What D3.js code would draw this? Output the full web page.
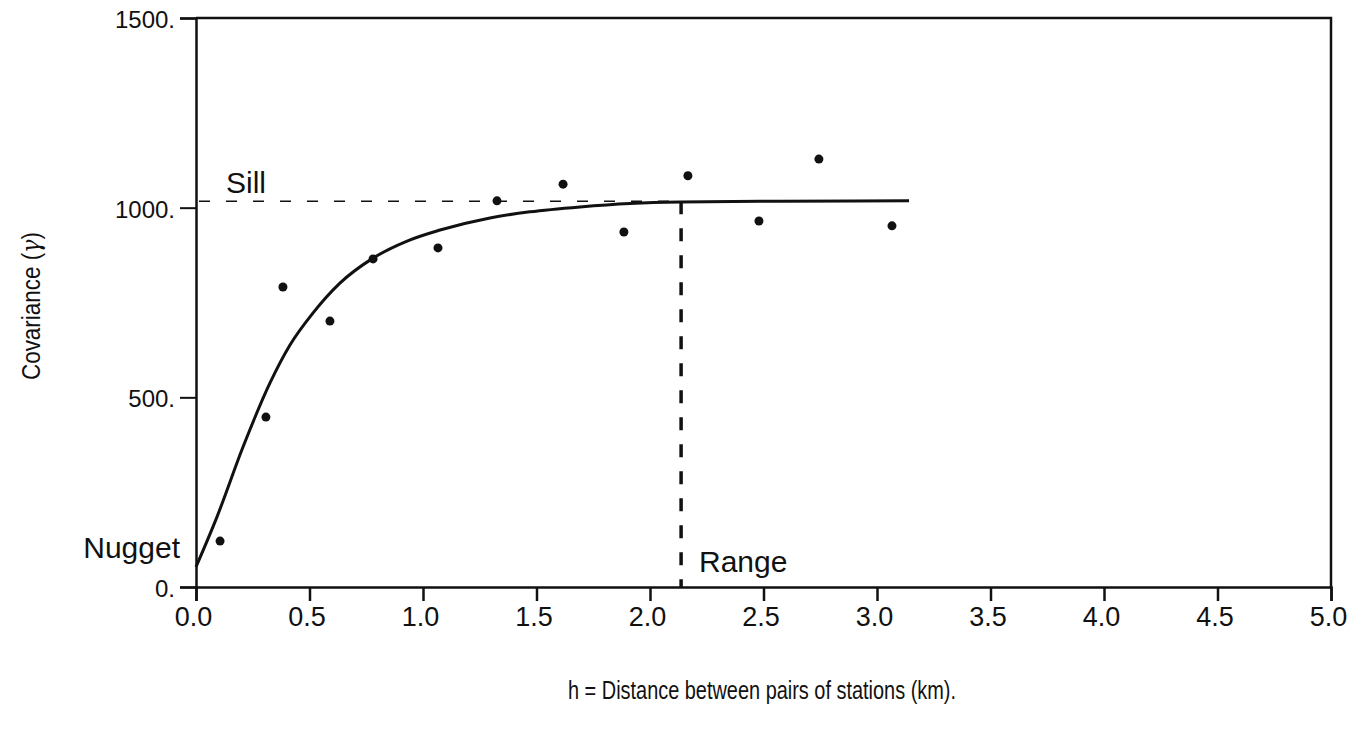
<!DOCTYPE html>
<html>
<head>
<meta charset="utf-8">
<script src="https://cdn.jsdelivr.net/npm/d3@7"></script>
<style>
  body { margin: 0; background: #fff; }
  svg text { font-family: "Liberation Sans", Arial, Helvetica, sans-serif; fill: #111; }
</style>
</head>
<body>
<div id="chart"></div>
<script>
// observed covariance points (h in km, covariance)
var pointH   = [0.106, 0.308, 0.383, 0.590, 0.780, 1.066, 1.326, 1.617, 1.885, 2.167, 2.480, 2.744, 3.066];
var pointCov = [121,   448,   791,   701,   865,   894,   1018,  1062,  936,   1084,  965,   1128,  952];

// fitted model curve
var curveH   = [0, 0.0925, 0.207, 0.326, 0.414, 0.515, 0.634, 0.780, 0.930, 1.075, 1.295, 1.471, 1.692, 1.912, 2.132, 2.573, 3.141];
var curveCov = [53, 185,   369,   538,   638,   722,   801,   867,   912,   941,   973,   989,   1002,  1011,  1015,  1017,  1018];

var sill = 1017;
var rangeH = 2.137;

var xTicks = [0, 0.5, 1, 1.5, 2, 2.5, 3, 3.5, 4, 4.5, 5];
var xMinor = [0.25, 0.75, 1.25, 1.75, 2.25, 2.75, 3.25, 3.75, 4.25, 4.75];
var yTicks = [0, 500, 1000, 1500];
var yMinor = d3.range(0, 1501, 50);

var width = 1366, height = 734;
var margin = {top: 18, right: 35, bottom: 147, left: 196};

var svg = d3.select("#chart")
  .append("svg")
    .attr("width", width)
    .attr("height", height);

var x = d3.scaleLinear()
    .domain([0, 5])
    .range([margin.left, width - margin.right]);

var y = d3.scaleLinear()
    .domain([0, 1500])
    .range([height - margin.bottom, margin.top]);

// frame: top and right border
svg.append("path")
    .attr("d", "M" + x(0) + "," + y(1500) + "H" + x(5) + "V" + y(0))
    .attr("fill", "none")
    .attr("stroke", "#111")
    .attr("stroke-width", 2.5);

// x axis
var xAxis = svg.append("g")
    .attr("transform", "translate(0," + y(0) + ")");
xAxis.call(d3.axisBottom(x).tickValues(xMinor).tickSize(7).tickFormat(""));
xAxis.call(d3.axisBottom(x).tickValues(xTicks).tickSize(14)
    .tickFormat(d3.format(".1f")));
xAxis.selectAll(".domain").attr("stroke-width", 2.5).attr("stroke", "#111");
xAxis.selectAll(".tick line").attr("stroke-width", 2.5).attr("stroke", "#111");
xAxis.selectAll("text").style("font-size", "27px").attr("x", -3).attr("y", 39).attr("dy", 0);

// y axis
var yAxis = svg.append("g")
    .attr("transform", "translate(" + x(0) + ",0)");
yAxis.call(d3.axisLeft(y).tickValues(yMinor).tickSize(8).tickFormat(""));
yAxis.call(d3.axisLeft(y).tickValues(yTicks).tickSize(16).tickPadding(5)
    .tickFormat(function(d) { return d + "."; }));
yAxis.selectAll(".domain").attr("stroke-width", 2.5).attr("stroke", "#111");
yAxis.selectAll(".tick line").attr("stroke-width", 2).attr("stroke", "#111");
yAxis.selectAll("text").style("font-size", "24px").attr("dy", "0.4em");

// sill line
svg.append("line")
    .attr("x1", x(0)).attr("x2", x(rangeH))
    .attr("y1", y(sill)).attr("y2", y(sill))
    .attr("stroke", "#111")
    .attr("stroke-width", 1.5)
    .attr("stroke-dasharray", "11,16")
    .attr("stroke-dashoffset", -3);

// range line
svg.append("line")
    .attr("x1", x(rangeH)).attr("x2", x(rangeH))
    .attr("y1", y(sill)).attr("y2", y(0))
    .attr("stroke", "#111")
    .attr("stroke-width", 3.5)
    .attr("stroke-dasharray", "13,14");

// model curve
var curveData = curveH.map(function(h, i) { return {h: h, c: curveCov[i]}; });
svg.append("path")
    .datum(curveData)
    .attr("fill", "none")
    .attr("stroke", "#111")
    .attr("stroke-width", 3)
    .attr("d", d3.line()
      .x(function(d) { return x(d.h); })
      .y(function(d) { return y(d.c); })
      .curve(d3.curveMonotoneX));

// points
var pointData = pointH.map(function(h, i) { return {h: h, c: pointCov[i]}; });
svg.append("g")
  .selectAll("circle")
  .data(pointData)
  .enter()
  .append("circle")
    .attr("cx", function(d) { return x(d.h); })
    .attr("cy", function(d) { return y(d.c); })
    .attr("r", 4.5)
    .attr("fill", "#111");

// annotations
svg.append("text").attr("x", 226).attr("y", 193).style("font-size", "30px").text("Sill");
svg.append("text").attr("x", 180).attr("y", 558).attr("text-anchor", "end").style("font-size", "30px").text("Nugget");
svg.append("text").attr("x", 699).attr("y", 572).style("font-size", "30px").text("Range");

// axis titles
svg.append("text")
    .attr("x", 762).attr("y", 699)
    .attr("text-anchor", "middle")
    .attr("textLength", 388)
    .attr("lengthAdjust", "spacingAndGlyphs")
    .style("font-size", "25px")
    .text("h = Distance between pairs of stations (km).");

var yt = svg.append("text")
    .attr("transform", "translate(40,306) rotate(-90)")
    .attr("text-anchor", "middle")
    .attr("textLength", 148)
    .attr("lengthAdjust", "spacingAndGlyphs")
    .style("font-size", "26px");
yt.append("tspan").text("Covariance (");
yt.append("tspan").style("font-family", "'DejaVu Serif', serif").style("font-style", "italic").text("γ");
yt.append("tspan").text(")");
</script>
</body>
</html>
